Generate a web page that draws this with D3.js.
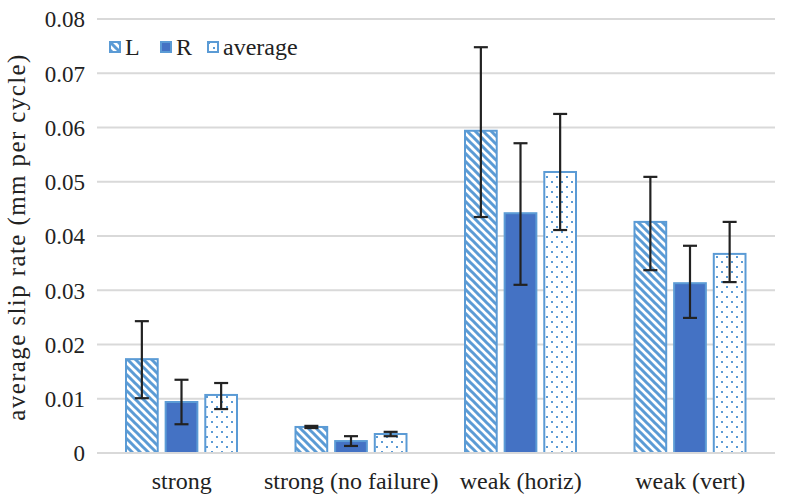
<!DOCTYPE html>
<html><head><meta charset="utf-8">
<script src="https://cdn.jsdelivr.net/npm/d3@7"></script>
<style>body{margin:0;background:#fff} svg text{font-family:"Liberation Serif","Times New Roman",Times,"DejaVu Serif",serif;}</style>
</head><body>
<svg id="c" width="785" height="495"></svg>
<script>
const categories = ["strong", "strong (no failure)", "weak (horiz)", "weak (vert)"];
const seriesNames = ["L", "R", "average"];
const valuesL = [0.0173, 0.0048, 0.0594, 0.0426];
const valuesR = [0.0094, 0.0022, 0.0442, 0.0313];
const valuesAvg = [0.0107, 0.0035, 0.0518, 0.0367];
const errHiL = [0.0243, 0.0050, 0.0748, 0.0509];
const errLoL = [0.0101, 0.0046, 0.0435, 0.0337];
const errHiR = [0.0135, 0.0031, 0.0571, 0.0382];
const errLoR = [0.0053, 0.0013, 0.0310, 0.0249];
const errHiA = [0.0129, 0.0039, 0.0625, 0.0426];
const errLoA = [0.0081, 0.0031, 0.0411, 0.0315];
const yTicks = [0, 0.01, 0.02, 0.03, 0.04, 0.05, 0.06, 0.07, 0.08];

const svg = d3.select("#c");
const defs = svg.append("defs");
const hatch = defs.append("pattern").attr("id","hatch").attr("patternUnits","userSpaceOnUse")
  .attr("width",8).attr("height",8);
hatch.append("rect").attr("width",8).attr("height",8).attr("fill","#fff");
hatch.append("path").attr("d","M-2,-2 L10,10 M-2,6 L2,10 M6,-2 L10,2").attr("stroke","#5B9BD5").attr("stroke-width",3);
const dots = defs.append("pattern").attr("id","dots").attr("patternUnits","userSpaceOnUse")
  .attr("width",10).attr("height",10);
dots.append("rect").attr("width",10).attr("height",10).attr("fill","#fff");
dots.append("rect").attr("x",1).attr("y",1).attr("width",2).attr("height",2).attr("fill","#5B9BD5");
dots.append("rect").attr("x",6).attr("y",6).attr("width",2).attr("height",2).attr("fill","#5B9BD5");

const x0 = d3.scaleBand().domain(categories).range([97, 775]).paddingInner(0).paddingOuter(0);
const x1 = d3.scaleBand().domain(seriesNames).range([29, 140]).paddingInner(0.2);
const y = d3.scaleLinear().domain([0, 0.08]).range([453, 19]);

svg.append("g").selectAll("line").data(yTicks).join("line")
  .attr("x1", 97).attr("x2", 775).attr("y1", d=>y(d)).attr("y2", d=>y(d))
  .attr("stroke","#d9d9d9").attr("stroke-width",2);

const yAxis = d3.axisLeft(y).tickValues(yTicks).tickSize(0).tickPadding(0)
  .tickFormat(d => d===0 ? "0" : d3.format(".2f")(d));
const ya = svg.append("g").attr("transform","translate(85,0)").call(yAxis);
ya.attr("font-family", null);
ya.select(".domain").remove();
ya.selectAll("text").attr("font-size",23).attr("fill","#222").attr("dy","0.34em");

const xAxis = d3.axisBottom(x0).tickSize(0).tickPadding(0);
const xa = svg.append("g").attr("transform","translate(0,489)").call(xAxis);
xa.attr("font-family", null);
xa.select(".domain").remove();
xa.selectAll("text").attr("font-size",24).attr("fill","#222").attr("dy","0");

svg.append("text").attr("transform","translate(25,237) rotate(-90)").attr("text-anchor","middle")
  .attr("font-size",25).attr("letter-spacing",1.4).attr("fill","#222").text("average slip rate (mm per cycle)");

const series = [
  {name:"L", vals:valuesL, hi:errHiL, lo:errLoL, fill:"url(#hatch)"},
  {name:"R", vals:valuesR, hi:errHiR, lo:errLoR, fill:"#4472C4"},
  {name:"average", vals:valuesAvg, hi:errHiA, lo:errLoA, fill:"url(#dots)"}
];
series.forEach(s => {
  const g = svg.append("g");
  g.selectAll("rect").data(categories).join("rect")
    .attr("x", c => x0(c) + x1(s.name))
    .attr("y", (c,i) => y(s.vals[i]))
    .attr("width", x1.bandwidth())
    .attr("height", (c,i) => y(0) - y(s.vals[i]))
    .attr("fill", s.fill).attr("stroke","#5B9BD5").attr("stroke-width",2);
});
svg.append("line").attr("x1",97).attr("x2",775).attr("y1",y(0)).attr("y2",y(0)).attr("stroke","#d9d9d9").attr("stroke-width",2);
series.forEach(s => {
  const g = svg.append("g").attr("stroke","#222").attr("stroke-width",2.2);
  categories.forEach((c,i) => {
    const cx = x0(c) + x1(s.name) + x1.bandwidth()/2;
    g.append("line").attr("x1",cx).attr("x2",cx).attr("y1",y(s.hi[i])).attr("y2",y(s.lo[i]));
    g.append("line").attr("x1",cx-7).attr("x2",cx+7).attr("y1",y(s.hi[i])).attr("y2",y(s.hi[i]));
    g.append("line").attr("x1",cx-7).attr("x2",cx+7).attr("y1",y(s.lo[i])).attr("y2",y(s.lo[i]));
  });
});

const leg = svg.append("g").attr("transform","translate(109,41)");
const legX = [0, 51, 98];
series.forEach((s,i) => {
  const g = leg.append("g").attr("transform",`translate(${legX[i]},0)`);
  g.append("rect").attr("x",1).attr("y",1).attr("width",10).attr("height",10)
    .attr("fill", s.fill).attr("stroke","#5B9BD5").attr("stroke-width",2);
  g.append("text").attr("x",16).attr("y",14).attr("font-size",24).attr("fill","#222").text(s.name);
});
</script>
</body></html>
